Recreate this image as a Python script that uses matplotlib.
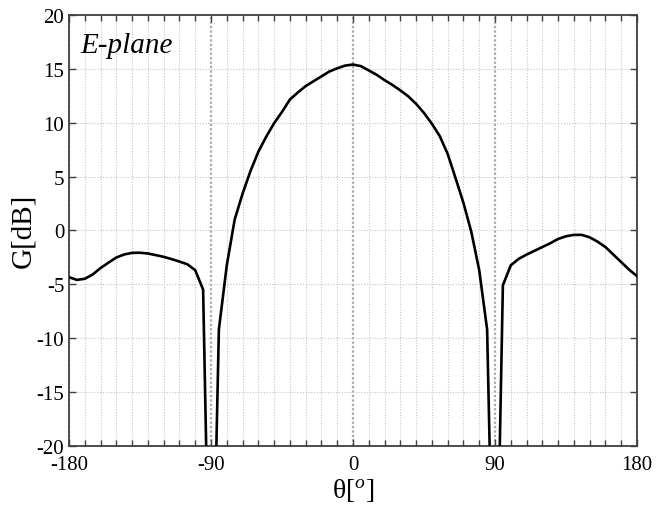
import matplotlib
matplotlib.use("Agg")
import matplotlib.pyplot as plt
from matplotlib.ticker import MultipleLocator

plt.rcParams['font.family'] = ['Liberation Serif', 'DejaVu Serif']
plt.rcParams['axes.unicode_minus'] = False
plt.rcParams['mathtext.fontset'] = 'custom'
plt.rcParams['mathtext.rm'] = 'Liberation Serif'
plt.rcParams['mathtext.it'] = 'Liberation Serif:italic'

theta = list(range(-180, 181, 5))
gain_db = [
    -4.35, -4.6, -4.5, -4.1, -3.5, -3.0, -2.52, -2.24, -2.09, -2.08,
    -2.15, -2.3, -2.46, -2.67, -2.9, -3.15, -3.7, -5.5, -43.0, -9.2,
    -3.25, 1.0, 3.4, 5.5, 7.3, 8.7, 9.95, 11.0, 12.15, 12.8,
    13.4, 13.85, 14.3, 14.75, 15.05, 15.3, 15.4, 15.25, 14.85, 14.45,
    13.95, 13.5, 13.0, 12.45, 11.75, 10.9, 9.9, 8.75, 7.1, 4.85,
    2.55, -0.15, -3.7, -9.2, -43.0, -5.1, -3.25, -2.65, -2.25, -1.9,
    -1.55, -1.2, -0.8, -0.55, -0.42, -0.42, -0.65, -1.05, -1.55, -2.25,
    -2.95, -3.65, -4.25,
]
x_ticks = [-180, -90, 0, 90, 180]
y_ticks = [-20, -15, -10, -5, 0, 5, 10, 15, 20]

fig = plt.figure(figsize=(6.58, 5.06), dpi=100)
ax = fig.add_axes([69/658, 1-446.7/506, 568/658, 430.7/506])

ax.set_xlim(-180, 180)
ax.set_ylim(-20, 20)
ax.set_xticks(x_ticks)
ax.set_yticks(y_ticks)
ax.xaxis.set_minor_locator(MultipleLocator(10))

ax.grid(which='minor', axis='x', linestyle=(0, (1, 1.5)), color='#c4c4c4', linewidth=0.8)
ax.grid(which='major', axis='y', linestyle=(0, (1, 1.5)), color='#c4c4c4', linewidth=0.8)
ax.grid(which='major', axis='x', linestyle=(0, (1, 1)), color='#a8a8a8', linewidth=1.6)
ax.set_axisbelow(True)

ax.plot(theta, gain_db, color='black', linewidth=1.9, solid_joinstyle='miter', zorder=3)

for s in ax.spines.values():
    s.set_color('#404040')
    s.set_linewidth(1.3)

ax.tick_params(which='both', direction='in', top=True, right=True, color='#404040',
               labelsize=15)
ax.tick_params(axis='y', pad=3.5)
ax.tick_params(axis='x', pad=7)
ax.tick_params(which='major', length=5, width=1.0)
ax.tick_params(which='minor', length=4, width=1.0)

ax.set_xlabel(r'$\mathrm{\theta}\mathit{[^o]}$', fontsize=20, labelpad=1)
ax.set_ylabel('G[dB]', fontsize=21, labelpad=0)

ax.text(0.02, 0.913, 'E-plane', transform=ax.transAxes, fontsize=21,
        fontstyle='italic', ha='left', va='baseline')

fig.savefig('out.png', dpi=100)
